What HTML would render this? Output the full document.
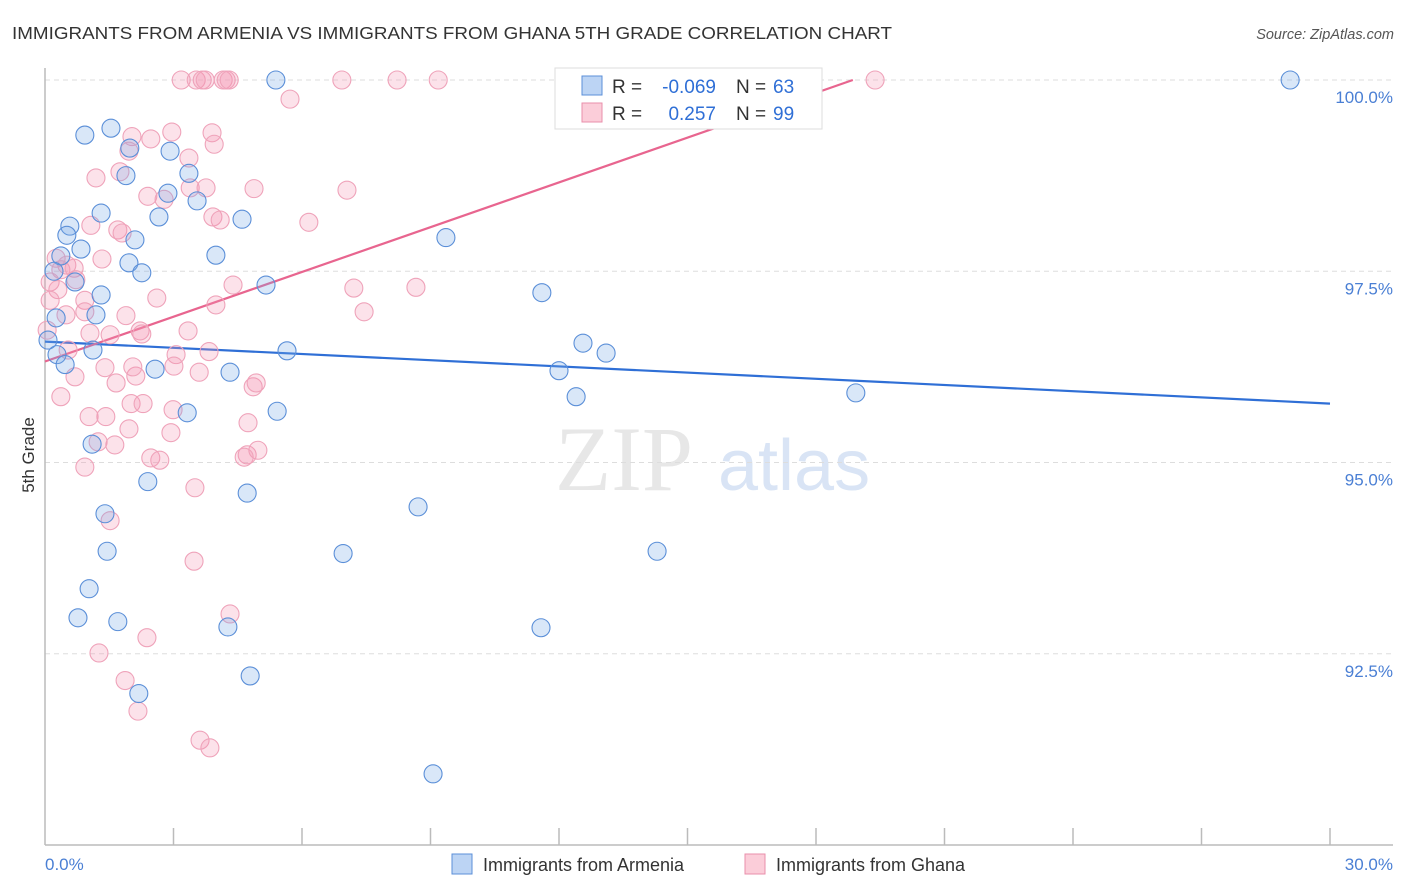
<!DOCTYPE html>
<html><head><meta charset="utf-8"><style>
body{margin:0;background:#fff;font-family:"Liberation Sans",sans-serif;}
svg{display:block}
</style></head><body>
<svg id="chart" width="1406" height="892" xmlns="http://www.w3.org/2000/svg">
<text x="12" y="39" font-size="17.5" fill="#333" textLength="880" lengthAdjust="spacingAndGlyphs" font-family="Liberation Sans">IMMIGRANTS FROM ARMENIA VS IMMIGRANTS FROM GHANA 5TH GRADE CORRELATION CHART</text>
<text x="1394" y="39" font-size="14.5" fill="#555" text-anchor="end" font-style="italic">Source: ZipAtlas.com</text>
<g>
<text x="555" y="490" font-size="92" fill="#ddd" font-family="Liberation Serif" opacity="0.7">ZIP</text>
<text x="718" y="490" font-size="72" fill="#c9daf1" opacity="0.7">atlas</text>
</g>
<g id="grid"></g>
<g id="axes"></g>
<g id="trend"></g>
<g id="points"></g>
<g>
<rect x="555" y="68" width="267" height="61" fill="#fff" stroke="#ddd"/>
<rect x="582" y="76" width="20" height="19" fill="#bcd4f4" stroke="#5b8fd8"/>
<rect x="582" y="103" width="20" height="19" fill="#fbcdd9" stroke="#e98fab"/>
<text x="612" y="93" font-size="19" fill="#333">R =</text>
<text x="716" y="93" font-size="19" fill="#2f6fd6" text-anchor="end">-0.069</text>
<text x="736" y="93" font-size="19" fill="#333">N =</text>
<text x="773" y="93" font-size="19" fill="#2f6fd6">63</text>
<text x="612" y="120" font-size="19" fill="#333">R =</text>
<text x="716" y="120" font-size="19" fill="#2f6fd6" text-anchor="end">0.257</text>
<text x="736" y="120" font-size="19" fill="#333">N =</text>
<text x="773" y="120" font-size="19" fill="#2f6fd6">99</text>
</g>
<text transform="translate(34,455) rotate(-90)" font-size="17" fill="#333" text-anchor="middle">5th Grade</text>
<text x="45" y="870" font-size="17" fill="#4a7fd4">0.0%</text>
<text x="1393" y="870" font-size="17" fill="#4a7fd4" text-anchor="end">30.0%</text>
<g>
<rect x="452" y="854" width="20" height="20" fill="#bcd4f4" stroke="#5b8fd8"/>
<text x="483" y="871" font-size="18" fill="#333">Immigrants from Armenia</text>
<rect x="745" y="854" width="20" height="20" fill="#fbcdd9" stroke="#e98fab"/>
<text x="776" y="871" font-size="18" fill="#333">Immigrants from Ghana</text>
</g>
</svg>
<script>
const yTicks=[100,97.5,95,92.5];
const yTickLabels=["100.0%","97.5%","95.0%","92.5%"];
const xTicks=[3,6,9,12,15,18,21,24,27,30];
const armeniaX=[5.39,29.07,0.93,1.54,1.98,2.92,1.89,3.36,2.87,3.55,1.31,2.66,4.60,0.58,0.51,2.10,0.84,9.36,0.37,3.99,1.96,2.26,0.21,0.70,5.16,1.31,11.60,1.19,0.26,12.56,1.12,13.10,5.65,0.07,0.28,0.47,2.57,4.32,12.00,12.40,18.93,3.32,5.42,1.10,2.40,4.72,8.71,1.40,1.45,6.96,14.29,1.03,0.77,1.70,4.27,11.58,4.79,2.19,9.06];
const armeniaY=[100,100,99.28,99.37,99.11,99.07,98.75,98.78,98.52,98.42,98.26,98.21,98.18,98.09,97.97,97.91,97.79,97.94,97.70,97.71,97.61,97.48,97.50,97.36,97.32,97.19,97.22,96.93,96.89,96.56,96.47,96.43,96.46,96.60,96.41,96.28,96.22,96.18,96.20,95.86,95.91,95.65,95.67,95.24,94.75,94.60,94.42,94.33,93.84,93.81,93.84,93.35,92.97,92.92,92.85,92.84,92.21,91.98,90.93];
const ghanaX=[3.18,3.53,3.67,3.74,4.16,4.23,4.30,6.93,8.22,9.18,19.38,5.72,2.96,3.90,2.03,2.47,3.95,3.36,1.96,1.19,1.75,2.40,3.39,3.76,4.88,7.05,2.78,3.92,4.09,6.16,1.07,1.70,1.80,0.26,1.33,0.51,0.37,0.68,0.72,4.39,7.21,8.66,0.12,0.30,2.61,3.99,0.93,7.45,0.49,0.93,1.89,1.05,2.22,3.34,1.52,2.26,0.54,3.06,3.83,4.86,0.37,1.40,2.12,2.05,3.01,4.93,3.60,0.70,1.66,2.01,1.03,1.42,2.99,2.29,4.74,1.96,1.24,1.63,2.94,2.47,2.68,4.72,4.97,4.65,0.93,3.50,1.52,3.48,4.32,2.38,1.26,1.87,2.17,3.62,3.85,0.05,0.12];
const ghanaY=[100,100,100,100,100,100,100,100,100,100,100,99.75,99.32,99.31,99.26,99.23,99.16,98.98,99.07,98.72,98.80,98.48,98.59,98.59,98.58,98.56,98.44,98.21,98.17,98.14,98.10,98.04,98.00,97.67,97.66,97.58,97.52,97.54,97.39,97.32,97.28,97.29,97.36,97.26,97.15,97.06,97.12,96.97,96.93,96.97,96.92,96.69,96.72,96.72,96.67,96.68,96.47,96.41,96.45,95.99,95.86,96.24,96.13,96.25,96.26,96.04,96.18,96.12,96.04,95.77,95.60,95.60,95.69,95.77,95.52,95.44,95.27,95.23,95.39,95.06,95.03,95.10,95.16,95.07,94.94,94.67,94.24,93.71,93.02,92.71,92.51,92.15,91.75,91.37,91.27,96.73,97.12];
const armeniaTrend=[96.58,95.77];
const ghanaTrend=[96.32,100.0,18.86];
const NS="http://www.w3.org/2000/svg";
function xs(v){return 45+v*42.833;}
function ys(v){return 80+(100-v)*76.5;}
function mk(tag,attrs,parent){const e=document.createElementNS(NS,tag);for(const k in attrs)e.setAttribute(k,attrs[k]);parent.appendChild(e);return e;}
const grid=document.getElementById('grid');
yTicks.forEach((t,i)=>{
  const l=mk('line',{x1:45,x2:1393,y1:ys(t),y2:ys(t),stroke:'#ddd','stroke-dasharray':'5,4'},grid);
  
  
  const tx=mk('text',{x:1393,y:ys(t)+23,'font-size':17,fill:'#4a7fd4','text-anchor':'end'},grid);
  tx.textContent=yTickLabels[i];
  
  
});
const axes=document.getElementById('axes');
const ya=mk('line',{x1:45,x2:45,y1:68,y2:845,stroke:'#bbb','stroke-width':1.5},axes);


const xa=mk('line',{x1:45,x2:1393,y1:845,y2:845,stroke:'#bbb','stroke-width':1.5},axes);


xTicks.forEach(t=>{
  const l=mk('line',{x1:xs(t),x2:xs(t),y1:828,y2:845,stroke:'#bbb','stroke-width':1.5},axes);
  
  
});
const pts=document.getElementById('points');
function drawPts(X,Y,fill,stroke,name){
  X.forEach((x,i)=>{
    const c=mk('circle',{cx:xs(x),cy:ys(Y[i]),r:9,fill:fill,stroke:stroke,'stroke-width':1.1},pts);
    
    
  });
}
drawPts(ghanaX,ghanaY,'rgba(244,150,178,0.28)','#efa3ba','ghana-point');
drawPts(armeniaX,armeniaY,'rgba(120,168,230,0.28)','#5b8fd8','armenia-point');
const tr=document.getElementById('trend');
const bl=mk('line',{x1:xs(0),y1:ys(armeniaTrend[0]),x2:xs(30),y2:ys(armeniaTrend[1]),stroke:'#2f6fd6','stroke-width':2.2},tr);


const pl=mk('line',{x1:xs(0),y1:ys(ghanaTrend[0]),x2:xs(ghanaTrend[2]),y2:ys(ghanaTrend[1]),stroke:'#e8658f','stroke-width':2.2},tr);


</script>
</body></html>
